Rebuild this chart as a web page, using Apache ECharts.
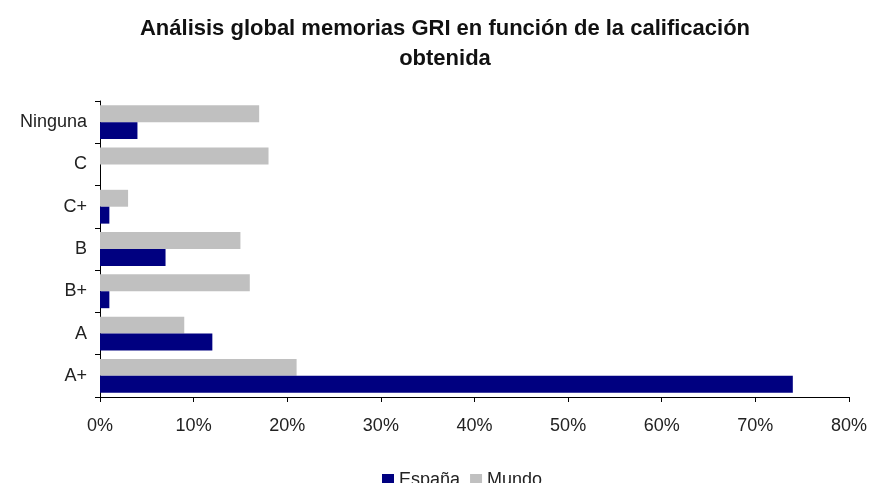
<!DOCTYPE html>
<html>
<head>
<meta charset="utf-8">
<script src="https://cdn.jsdelivr.net/npm/echarts@6/dist/echarts.min.js"></script>
<style>
html, body { margin: 0; padding: 0; background: #fff; }
#main { width: 870px; height: 483px; }
</style>
</head>
<body>
<div id="main"></div>
<script>
// categorias de abajo hacia arriba
var categorias = ['A+', 'A', 'B+', 'B', 'C+', 'C', 'Ninguna'];
var espana = [74, 12, 1, 7, 1, 0, 4];
var mundo = [21, 9, 16, 15, 3, 18, 17];
var ticksX = [0, 10, 20, 30, 40, 50, 60, 70, 80];

var chart = echarts.init(document.getElementById('main'));
var option = {
    backgroundColor: '#fff',
    title: {
        text: 'Análisis global memorias GRI en función de la calificación\nobtenida',
        left: 440,
        textAlign: 'center',
        top: 9,
        textStyle: {
            fontFamily: 'Liberation Sans',
            fontSize: 22,
            fontWeight: 'bold',
            color: '#111',
            lineHeight: 30
        }
    },
    legend: {
        data: ['España', 'Mundo'],
        top: 466,
        left: 377,
        itemWidth: 12,
        itemHeight: 12,
        itemGap: 10,
        icon: 'rect',
        textStyle: {
            fontFamily: 'Liberation Sans',
            fontSize: 18,
            color: '#222'
        }
    },
    grid: {
        top: 101,
        left: 100,
        right: 21,
        bottom: 86
    },
    xAxis: {
        type: 'value',
        min: 0,
        max: ticksX[ticksX.length - 1],
        interval: 10,
        axisLine: { show: true, lineStyle: { color: '#000', width: 1 } },
        axisTick: { show: true, length: 5, lineStyle: { color: '#000' } },
        splitLine: { show: false },
        axisLabel: {
            formatter: '{value}%',
            fontFamily: 'Liberation Sans',
            fontSize: 18,
            color: '#222',
            margin: 20
        }
    },
    yAxis: {
        type: 'category',
        data: categorias,
        axisLine: { show: true, lineStyle: { color: '#000', width: 1 } },
        axisTick: { show: true, length: 5, lineStyle: { color: '#000' } },
        axisLabel: {
            fontFamily: 'Liberation Sans',
            fontSize: 18,
            color: '#222',
            margin: 13
        }
    },
    // Mundo primero: en barras horizontales la primera serie queda arriba
    series: [{
        name: 'Mundo',
        type: 'bar',
        data: mundo,
        barGap: 0,
        barCategoryGap: '20%',
        itemStyle: { color: '#c0c0c0' }
    }, {
        name: 'España',
        type: 'bar',
        data: espana,
        barGap: 0,
        barCategoryGap: '20%',
        itemStyle: { color: '#000080' }
    }]
};
chart.setOption(option);
</script>
</body>
</html>
